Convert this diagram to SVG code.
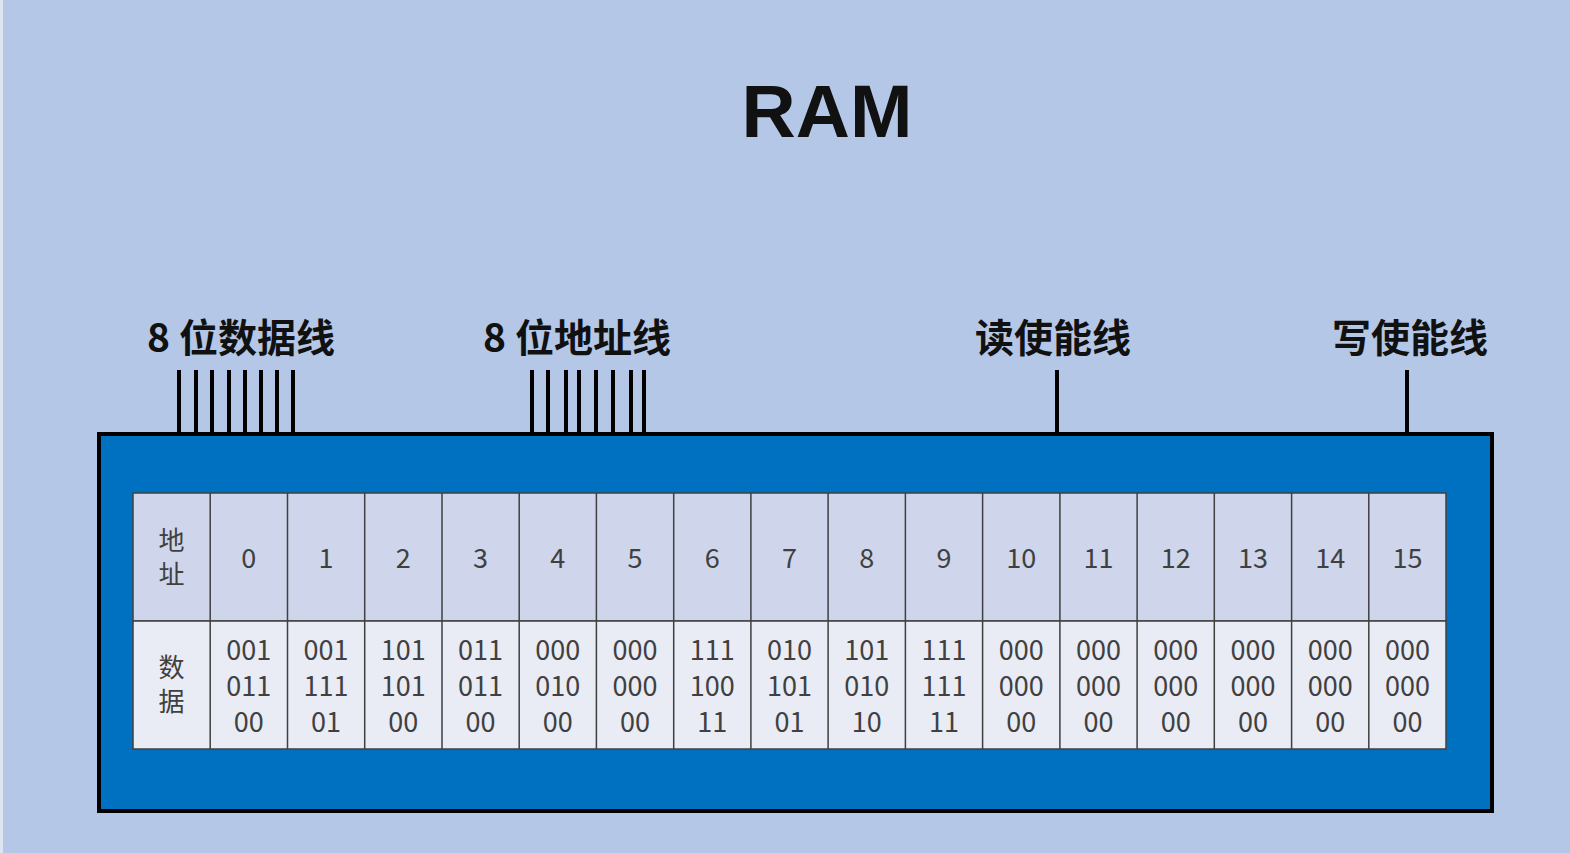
<svg xmlns="http://www.w3.org/2000/svg" width="1570" height="853" viewBox="0 0 1570 853">
<style>
.lbl{font-family:"Noto Sans CJK SC","Noto Sans",sans-serif;font-size:39px;font-weight:700;fill:#111;text-anchor:middle}
.title{font-family:"Liberation Sans",Arial,sans-serif;font-size:75px;font-weight:700;fill:#111;text-anchor:middle}
.cell{font-family:"Noto Sans CJK SC","Noto Sans",sans-serif;font-size:27px;fill:#404040;text-anchor:middle}
.cj{font-family:"Noto Sans CJK SC","Noto Sans",sans-serif;font-size:26px;fill:#404040;text-anchor:middle}
.hd{fill:#CFD5EA;stroke:#404040;stroke-width:1.5}
.dt{fill:#E9EBF5;stroke:#404040;stroke-width:1.5}
.wire{stroke:#000;stroke-width:4;fill:none}
</style>
<rect x="0" y="0" width="1570" height="853" fill="#B4C7E7"/>
<rect x="0" y="0" width="3" height="853" fill="#DDE4F2"/>
<text class="title" x="827" y="137">RAM</text>
<g id="labels">
<text class="lbl" x="241" y="352">8 位数据线</text>
<text class="lbl" x="577" y="352">8 位地址线</text>
<text class="lbl" x="1053" y="352">读使能线</text>
<text class="lbl" x="1410" y="352">写使能线</text>
</g>
<g id="connectors">
<path class="wire" d="M179 370V434M196 370V434M212 370V434M229 370V434M245 370V434M261 370V434M277 370V434M293 370V434"/>
<path class="wire" d="M532 370V434M548 370V434M566 370V434M579 370V434M596 370V434M613 370V434M631 370V434M644 370V434"/>
<path class="wire" d="M1057 370V434"/>
<path class="wire" d="M1407 370V434"/>
</g>
<g id="ram">
<rect x="99" y="434" width="1393" height="377" fill="#0070C0" stroke="#000" stroke-width="4"/>
</g>
<g id="table">
<rect class="hd" x="133" y="493" width="1313" height="128"/>
<rect class="dt" x="133" y="621" width="1313" height="128"/>
<path d="M210.2 493V749M287.5 493V749M364.7 493V749M442 493V749M519.2 493V749M596.4 493V749M673.7 493V749M750.9 493V749M828.1 493V749M905.4 493V749M982.6 493V749M1059.9 493V749M1137.1 493V749M1214.3 493V749M1291.6 493V749M1368.8 493V749" stroke="#404040" stroke-width="1.5" fill="none"/>
<text class="cj" x="171.6" y="550">地</text>
<text class="cj" x="171.6" y="584">址</text>
<text class="cj" x="171.6" y="677">数</text>
<text class="cj" x="171.6" y="711">据</text>
<g id="addr">
<text class="cell" x="248.8" y="568">0</text>
<text class="cell" x="326.1" y="568">1</text>
<text class="cell" x="403.3" y="568">2</text>
<text class="cell" x="480.6" y="568">3</text>
<text class="cell" x="557.8" y="568">4</text>
<text class="cell" x="635" y="568">5</text>
<text class="cell" x="712.3" y="568">6</text>
<text class="cell" x="789.5" y="568">7</text>
<text class="cell" x="866.8" y="568">8</text>
<text class="cell" x="944" y="568">9</text>
<text class="cell" x="1021.2" y="568">10</text>
<text class="cell" x="1098.5" y="568">11</text>
<text class="cell" x="1175.7" y="568">12</text>
<text class="cell" x="1253" y="568">13</text>
<text class="cell" x="1330.2" y="568">14</text>
<text class="cell" x="1407.4" y="568">15</text>
</g>
<g id="data">
<text class="cell" x="248.8"><tspan x="248.8" y="660">001</tspan><tspan x="248.8" y="696">011</tspan><tspan x="248.8" y="732">00</tspan></text>
<text class="cell" x="326.1"><tspan x="326.1" y="660">001</tspan><tspan x="326.1" y="696">111</tspan><tspan x="326.1" y="732">01</tspan></text>
<text class="cell" x="403.3"><tspan x="403.3" y="660">101</tspan><tspan x="403.3" y="696">101</tspan><tspan x="403.3" y="732">00</tspan></text>
<text class="cell" x="480.6"><tspan x="480.6" y="660">011</tspan><tspan x="480.6" y="696">011</tspan><tspan x="480.6" y="732">00</tspan></text>
<text class="cell" x="557.8"><tspan x="557.8" y="660">000</tspan><tspan x="557.8" y="696">010</tspan><tspan x="557.8" y="732">00</tspan></text>
<text class="cell" x="635"><tspan x="635" y="660">000</tspan><tspan x="635" y="696">000</tspan><tspan x="635" y="732">00</tspan></text>
<text class="cell" x="712.3"><tspan x="712.3" y="660">111</tspan><tspan x="712.3" y="696">100</tspan><tspan x="712.3" y="732">11</tspan></text>
<text class="cell" x="789.5"><tspan x="789.5" y="660">010</tspan><tspan x="789.5" y="696">101</tspan><tspan x="789.5" y="732">01</tspan></text>
<text class="cell" x="866.8"><tspan x="866.8" y="660">101</tspan><tspan x="866.8" y="696">010</tspan><tspan x="866.8" y="732">10</tspan></text>
<text class="cell" x="944"><tspan x="944" y="660">111</tspan><tspan x="944" y="696">111</tspan><tspan x="944" y="732">11</tspan></text>
<text class="cell" x="1021.2"><tspan x="1021.2" y="660">000</tspan><tspan x="1021.2" y="696">000</tspan><tspan x="1021.2" y="732">00</tspan></text>
<text class="cell" x="1098.5"><tspan x="1098.5" y="660">000</tspan><tspan x="1098.5" y="696">000</tspan><tspan x="1098.5" y="732">00</tspan></text>
<text class="cell" x="1175.7"><tspan x="1175.7" y="660">000</tspan><tspan x="1175.7" y="696">000</tspan><tspan x="1175.7" y="732">00</tspan></text>
<text class="cell" x="1253"><tspan x="1253" y="660">000</tspan><tspan x="1253" y="696">000</tspan><tspan x="1253" y="732">00</tspan></text>
<text class="cell" x="1330.2"><tspan x="1330.2" y="660">000</tspan><tspan x="1330.2" y="696">000</tspan><tspan x="1330.2" y="732">00</tspan></text>
<text class="cell" x="1407.4"><tspan x="1407.4" y="660">000</tspan><tspan x="1407.4" y="696">000</tspan><tspan x="1407.4" y="732">00</tspan></text>
</g>
</g>
</svg>
